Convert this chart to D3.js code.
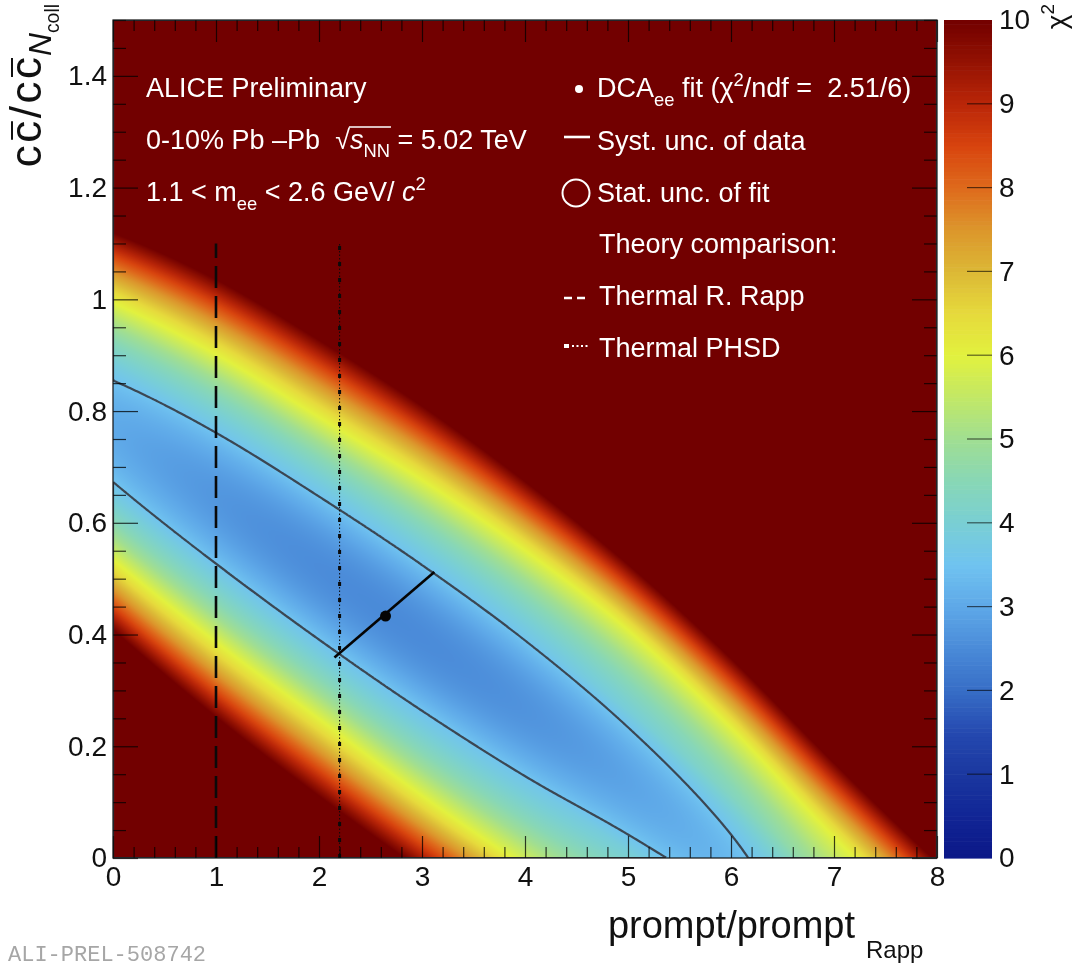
<!DOCTYPE html>
<html>
<head>
<meta charset="utf-8">
<script src="https://cdn.jsdelivr.net/npm/d3@7"></script>
<style>
  html, body { margin: 0; padding: 0; background: #fff; }
  #chart { position: relative; width: 1076px; height: 964px; }
  #chart canvas, #chart svg { position: absolute; left: 0; top: 0; }
  svg text { font-family: "Liberation Sans", Arial, Helvetica, sans-serif; white-space: pre; }
</style>
</head>
<body>
<div id="chart"></div>
<script>
// ---------------- data ----------------
const chi2Min = 2.51;
const ndf = 6;
const fitPoint = [2.646, 0.433];                  // best fit (prompt ratio, cc̄ ratio)
const systBar = [[2.15, 0.359], [3.12, 0.512]];   // systematic uncertainty of data
const theoryRappX = 1.0;
const theoryPhsdX = 2.2;
const theoryTop = 1.1;

// χ² landscape, described column by column along the horizontal axis
const columnX    = [0, 1, 2, 3, 4, 5, 6, 7, 8];
const valleyY    = [0.764, 0.644, 0.519, 0.394, 0.268, 0.138, -0.012, -0.180, -0.340]; // y of the valley floor
const valleyChi2 = [3.03, 2.71, 2.54, 2.52, 2.65, 2.93, 3.32, 3.94, 4.66];             // χ² on the floor
const width1     = [0.131, 0.131, 0.130, 0.131, 0.131, 0.126, 0.124, 0.124, 0.124];    // half width, floor + 1
const width6     = [0.230, 0.2575, 0.270, 0.2825, 0.2825, 0.270, 0.245, 0.2175, 0.200]; // half width, χ² = 6
const width10    = [0.355, 0.3915, 0.408, 0.415, 0.406, 0.3875, 0.369, 0.350, 0.332];   // half width, χ² = 10

// colour palette of the χ² axis
const paletteValues = [0, 0.5, 1, 1.5, 2, 2.5, 3, 3.5, 4, 4.5, 5, 5.5, 6, 6.5, 7, 7.5, 8, 8.5, 9, 9.5, 10];
const paletteColors = ["#0b1787", "#112595", "#1a379f", "#2549b0", "#376ec6", "#4a8ad8", "#5ea8e8", "#70c3f0",
                       "#79cfd4", "#88d7b6", "#a0de92", "#c2e866", "#e2f13e", "#e6da3c", "#dcb836", "#dc962c",
                       "#de6a1c", "#d8440e", "#ba2608", "#941202", "#720000"];

const xTicks = [0, 1, 2, 3, 4, 5, 6, 7, 8];
const yTicks = [0, 0.2, 0.4, 0.6, 0.8, 1, 1.2, 1.4];
const zTicks = [0, 1, 2, 3, 4, 5, 6, 7, 8, 9, 10];

// ---------------- layout ----------------
const W = 1076, H = 964;
const plot = { left: 113, right: 937, top: 20, bottom: 858 };
const bar = { left: 944, right: 992 };

const x = d3.scaleLinear().domain([0, 8]).range([plot.left, plot.right]);
const y = d3.scaleLinear().domain([0, 1.5]).range([plot.bottom, plot.top]);
const z = d3.scaleLinear().domain([0, 10]).range([plot.bottom, plot.top]);

const color = d3.scaleLinear().domain(paletteValues).range(paletteColors)
  .interpolate(d3.interpolateRgb).clamp(true);

// smooth (Catmull-Rom) interpolation through the column samples,
// with quadratic extension past both ends
function smoothColumns(values) {
  const pos = d3.scaleLinear().domain([columnX[0], columnX[columnX.length - 1]])
    .range([0, columnX.length - 1]).clamp(true);
  const n = values.length;
  const ext = [3 * values[0] - 3 * values[1] + values[2], ...values,
               3 * values[n - 1] - 3 * values[n - 2] + values[n - 3]];
  return xv => {
    const u = pos(xv);
    const i = Math.min(n - 2, Math.floor(u));
    const t = u - i;
    const p0 = ext[i], p1 = ext[i + 1], p2 = ext[i + 2], p3 = ext[i + 3];
    const t2 = t * t, t3 = t2 * t;
    return 0.5 * ((2 * p1) + (-p0 + p2) * t + (2 * p0 - 5 * p1 + 4 * p2 - p3) * t2 + (-p0 + 3 * p1 - 3 * p2 + p3) * t3);
  };
}
const floorY = smoothColumns(valleyY);
const floorChi2 = smoothColumns(valleyChi2);
const w1 = smoothColumns(width1);
const w6 = smoothColumns(width6);
const w10 = smoothColumns(width10);

function column(xv) {
  const m = floorChi2(xv), a = w1(xv), b = w6(xv), c = w10(xv);
  const prof = d3.scaleLinear().domain([0, a * a, b * b, c * c]).range([m, m + 1, 6, 10]);
  const yc = floorY(xv);
  return yv => prof((yv - yc) * (yv - yc));
}

const root = d3.select("#chart");
const canvas = root.append("canvas").attr("width", W).attr("height", H).node();
const svg = root.append("svg").attr("width", W).attr("height", H);

// ---------------- χ² map ----------------
const lut = d3.range(0, 1001).map(i => d3.rgb(color(i / 100)));
const ctx = canvas.getContext("2d");
const pw = plot.right - plot.left, ph = plot.bottom - plot.top;
const img = ctx.createImageData(pw, ph);
for (let i = 0; i < pw; i++) {
  const f = column(x.invert(plot.left + i + 0.5));
  for (let j = 0; j < ph; j++) {
    const v = f(y.invert(plot.top + j + 0.5));
    const c = lut[Math.max(0, Math.min(1000, Math.round(v * 100)))];
    const k = (j * pw + i) * 4;
    img.data[k] = c.r; img.data[k + 1] = c.g; img.data[k + 2] = c.b; img.data[k + 3] = 255;
  }
}
ctx.putImageData(img, plot.left, plot.top);

// ---------------- contour of χ²min + 1 ----------------
const nx = 412, ny = 419;
const dx = 8 / nx, dy = 1.5 / ny;
const grid = new Float64Array(nx * ny);
for (let i = 0; i < nx; i++) {
  const f = column((i + 0.5) * dx);
  for (let j = 0; j < ny; j++) grid[j * nx + i] = f(1.5 - (j + 0.5) * dy);
}
const contour = d3.contours().size([nx, ny]).thresholds([chi2Min + 1])(grid);
const proj = d3.geoTransform({
  point(gx, gy) { this.stream.point(x(gx * dx), y(1.5 - gy * dy)); }
});

svg.append("clipPath").attr("id", "plotclip").append("rect")
  .attr("x", plot.left).attr("y", plot.top).attr("width", pw).attr("height", ph);

const inner = svg.append("g").attr("clip-path", "url(#plotclip)");
inner.selectAll("path.contour").data(contour).join("path")
  .attr("class", "contour")
  .attr("d", d3.geoPath(proj))
  .attr("fill", "none").attr("stroke", "#3b4753").attr("stroke-width", 2.2);

// theory comparison lines
inner.append("line")
  .attr("x1", x(theoryRappX)).attr("x2", x(theoryRappX))
  .attr("y1", y(0)).attr("y2", y(theoryTop))
  .attr("stroke", "#0a0a0a").attr("stroke-width", 2.6).attr("stroke-dasharray", "22,8");
inner.append("line")
  .attr("x1", x(theoryPhsdX)).attr("x2", x(theoryPhsdX))
  .attr("y1", y(0)).attr("y2", y(theoryTop))
  .attr("stroke", "#0a0a0a").attr("stroke-width", 1).attr("stroke-dasharray", "1.5,2");
inner.append("line")
  .attr("x1", x(theoryPhsdX)).attr("x2", x(theoryPhsdX))
  .attr("y1", y(0)).attr("y2", y(theoryTop))
  .attr("stroke", "#0a0a0a").attr("stroke-width", 3).attr("stroke-dasharray", "4,12");

// fit result
inner.append("line")
  .attr("x1", x(systBar[0][0])).attr("y1", y(systBar[0][1]))
  .attr("x2", x(systBar[1][0])).attr("y2", y(systBar[1][1]))
  .attr("stroke", "#050505").attr("stroke-width", 2.6);
inner.append("circle")
  .attr("cx", x(fitPoint[0])).attr("cy", y(fitPoint[1])).attr("r", 5.5).attr("fill", "#050505");

// ---------------- axes ----------------
const tickStyle = g => g.selectAll("line").attr("stroke", "#000").attr("stroke-opacity", 0.75).attr("stroke-width", 1.2);
const noDomain = g => g.select(".domain").remove();
const xMinor = d3.range(0, 8.001, 0.2).filter(v => Math.abs(v - Math.round(v)) > 1e-6);
const yMinor = d3.range(0, 1.5001, 0.05).filter(v => Math.abs(v / 0.2 - Math.round(v / 0.2)) > 1e-6);

function axisGroup(axis, tx, ty) {
  return svg.append("g").attr("transform", `translate(${tx},${ty})`).call(axis).call(noDomain).call(tickStyle);
}
// bottom
const xb = axisGroup(d3.axisBottom(x).tickValues(xTicks).tickSize(-22).tickPadding(8).tickFormat(d3.format("d")), 0, plot.bottom);
axisGroup(d3.axisBottom(x).tickValues(xMinor).tickSize(-11).tickFormat(""), 0, plot.bottom);
// top mirror
axisGroup(d3.axisTop(x).tickValues(xTicks).tickSize(-22).tickFormat(""), 0, plot.top);
axisGroup(d3.axisTop(x).tickValues(xMinor).tickSize(-11).tickFormat(""), 0, plot.top);
// left
const yl = axisGroup(d3.axisLeft(y).tickValues(yTicks).tickSize(-25).tickPadding(6).tickFormat(d => d === 0 ? "0" : d3.format("")(d)), plot.left, 0);
axisGroup(d3.axisLeft(y).tickValues(yMinor).tickSize(-13).tickFormat(""), plot.left, 0);
// right mirror
axisGroup(d3.axisRight(y).tickValues(yTicks).tickSize(-25).tickFormat(""), plot.right, 0);
axisGroup(d3.axisRight(y).tickValues(yMinor).tickSize(-13).tickFormat(""), plot.right, 0);

[xb, yl].forEach(g => g.selectAll("text")
  .attr("fill", "#111").style("font-size", "28px").style("font-family", '"Liberation Sans", Arial, sans-serif'));

// frame
svg.append("rect").attr("x", plot.left).attr("y", plot.top).attr("width", pw).attr("height", ph)
  .attr("fill", "none").attr("stroke", "#111").attr("stroke-width", 1.2);

// ---------------- colour bar ----------------
const zSteps = d3.range(0, 10, 0.05);
svg.append("g").selectAll("rect").data(zSteps).join("rect")
  .attr("x", bar.left).attr("width", bar.right - bar.left)
  .attr("y", d => z(d + 0.05)).attr("height", d => z(d) - z(d + 0.05) + 0.6)
  .attr("fill", d => color(d + 0.025));
const zAxis = svg.append("g").attr("transform", `translate(${bar.right},0)`)
  .call(d3.axisRight(z).tickValues(zTicks).tickSize(0).tickPadding(7).tickFormat(d3.format("d")))
  .call(noDomain);
zAxis.selectAll("text").attr("fill", "#111").style("font-size", "28px")
  .style("font-family", '"Liberation Sans", Arial, sans-serif');
svg.append("g").selectAll("line").data(zTicks.slice(1, -1)).join("line")
  .attr("x1", bar.right - 25).attr("x2", bar.right).attr("y1", d => z(d)).attr("y2", d => z(d))
  .attr("stroke", "#000").attr("stroke-opacity", 0.6).attr("stroke-width", 1.2);

// ---------------- text helpers ----------------
function richText(parent, px, py, parts, size, fill, anchor) {
  const t = parent.append("text").attr("x", px).attr("y", py)
    .attr("fill", fill).style("font-size", size + "px").attr("text-anchor", anchor || "start");
  let shift = 0;
  parts.forEach(p => {
    const s = p.size ? p.size * size : (p.sub || p.sup ? 0.68 * size : size);
    const target = p.sub ? (p.off || 0.32) * size : p.sup ? -(p.off || 0.42) * size : 0;
    const ts = t.append("tspan").text(p.t).style("font-size", s + "px")
      .attr("dy", target - shift);
    if (p.dx) ts.attr("dx", p.dx);
    if (p.italic) ts.style("font-style", "italic");
    if (p.spacing) ts.style("letter-spacing", p.spacing + "px");
    shift = target;
    p.node = ts.node();
  });
  return t;
}
// bar over the glyphs of a tspan, in the text's own coordinates
function overbar(parent, node, yLine, pad, stroke, width) {
  const n = node.getNumberOfChars();
  const a = node.getStartPositionOfChar(0).x, b = node.getEndPositionOfChar(n - 1).x;
  parent.append("line").attr("x1", a + pad).attr("x2", b - pad).attr("y1", yLine).attr("y2", yLine)
    .attr("stroke", stroke).attr("stroke-width", width);
}

// ---------------- labels in the frame ----------------
const labelSize = 27;
const labelX = 146;
richText(svg, labelX, 97, [{ t: "ALICE Preliminary" }], labelSize, "#fff");
const sqrtParts = [{ t: "0-10% Pb \u2013Pb  " }, { t: "\u221A" }, { t: "s", italic: true },
                   { t: "NN", sub: true, off: 0.3 }, { t: " = 5.02 TeV" }];
richText(svg, labelX, 149, sqrtParts, labelSize, "#fff");
{
  const a = sqrtParts[1].node, b = sqrtParts[3].node;
  const x0 = a.getEndPositionOfChar(0).x - 1;
  const x1 = b.getEndPositionOfChar(1).x + 1;
  svg.append("line").attr("x1", x0).attr("x2", x1).attr("y1", 149 - 22).attr("y2", 149 - 22)
    .attr("stroke", "#fff").attr("stroke-width", 1.3);
}
richText(svg, labelX, 201, [{ t: "1.1 < m" }, { t: "ee", sub: true }, { t: " < 2.6 GeV/ " },
  { t: "c", italic: true }, { t: "2", sup: true }], labelSize, "#fff");

// legend
const legSize = 27;
const legX = 597;
richText(svg, legX, 97, [{ t: "DCA" }, { t: "ee", sub: true }, { t: " fit (\u03C7" }, { t: "2", sup: true },
  { t: "/ndf =  " + chi2Min.toFixed(2) + "/" + ndf + ")" }], legSize, "#fff");
richText(svg, legX, 150, [{ t: "Syst. unc. of data" }], legSize, "#fff");
richText(svg, legX, 202, [{ t: "Stat. unc. of fit" }], legSize, "#fff");
richText(svg, legX + 2, 253, [{ t: "Theory comparison:" }], legSize, "#fff");
richText(svg, legX + 2, 305, [{ t: "Thermal R. Rapp" }], legSize, "#fff");
richText(svg, legX + 2, 357, [{ t: "Thermal PHSD" }], legSize, "#fff");

const leg = svg.append("g").attr("stroke", "#fff").attr("fill", "none");
leg.append("circle").attr("cx", 579).attr("cy", 89).attr("r", 4).attr("fill", "#fff").attr("stroke", "none");
leg.append("line").attr("x1", 564).attr("x2", 590).attr("y1", 137).attr("y2", 137).attr("stroke-width", 2.6);
leg.append("circle").attr("cx", 576).attr("cy", 193).attr("r", 13.5).attr("stroke-width", 2);
leg.append("line").attr("x1", 564).attr("x2", 586).attr("y1", 298).attr("y2", 298)
  .attr("stroke-width", 2.6).attr("stroke-dasharray", "8,5");
leg.append("line").attr("x1", 564).attr("x2", 569).attr("y1", 346).attr("y2", 346).attr("stroke-width", 4);
leg.append("line").attr("x1", 572).attr("x2", 588).attr("y1", 346).attr("y2", 346)
  .attr("stroke-width", 2).attr("stroke-dasharray", "2,2.5");

// ---------------- axis titles ----------------
richText(svg, 855, 938, [{ t: "prompt/prompt" }], 38, "#111", "end");
richText(svg, 866, 958, [{ t: "Rapp" }], 24, "#111");

const yTitle = svg.append("g").attr("transform", "translate(41,4) rotate(-90)");
const yParts = [{ t: "c", spacing: 2.5 }, { t: "c", spacing: 2.5 }, { t: "/", spacing: 2.5 }, { t: "c", spacing: 2.5 },
  { t: "c", spacing: 1 }, { t: "N", sub: true, italic: true, off: 0.22, size: 0.72 },
  { t: "coll", sub: true, off: 0.4, size: 0.44 }];
richText(yTitle, 0, 0, yParts, 44, "#111", "end");
overbar(yTitle, yParts[1].node, -29, 3, "#111", 2);
overbar(yTitle, yParts[4].node, -29, 2, "#111", 2);

const zTitle = svg.append("g").attr("transform", "translate(1066,4) rotate(-90)");
richText(zTitle, 0, 0, [{ t: "\u03C7" }, { t: "2", sup: true }], 28, "#111", "end");

svg.append("text").attr("x", 8).attr("y", 961).text("ALI-PREL-508742")
  .style("font-family", '"Liberation Mono", "DejaVu Sans Mono", monospace')
  .style("font-size", "22px").attr("fill", "#a6a6a6");
</script>
</body>
</html>
